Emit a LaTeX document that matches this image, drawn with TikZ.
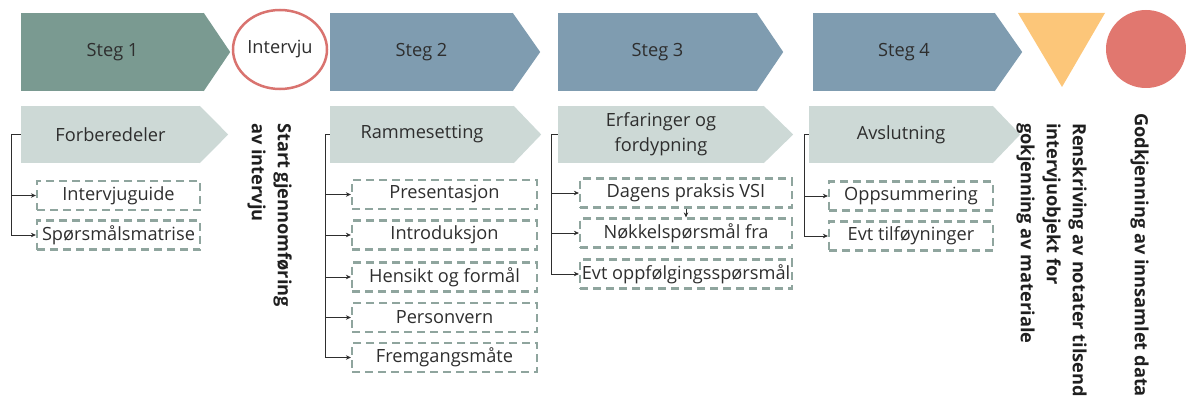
\documentclass[tikz,border=0pt]{standalone}
\usepackage{fontspec}
\setmainfont{Open Sans}
\usetikzlibrary{arrows.meta,shapes.geometric}

\definecolor{stepgreen}{HTML}{7A9A91}
\definecolor{stepblue}{HTML}{7F9CB0}
\definecolor{phase}{HTML}{CDD9D6}
\definecolor{dashc}{HTML}{8FA59E}
\definecolor{ringred}{HTML}{D9736F}
\definecolor{triyellow}{HTML}{FCC679}
\definecolor{dotred}{HTML}{E1776F}
\definecolor{ink}{HTML}{2E2E2E}

\tikzset{
  basefont/.style={font=\fontsize{18.2}{25}\selectfont, text=ink},
  stepbox/.style={basefont, fill=#1, minimum height=78, inner sep=0},
  phasebox/.style={basefont, fill=phase, minimum height=57, inner sep=0, align=center},
  subbox/.style={basefont, draw=dashc, dash pattern=on 8pt off 5pt, line width=2.2pt,
                 minimum height=29, inner sep=0},
  conn/.style={draw=ink, line width=1pt, -{Stealth[length=5pt,width=4.5pt]}},
  vtext/.style={rotate=-90, anchor=north west, align=left, inner sep=0,
                font=\bfseries\fontsize{18.2}{26}\selectfont, text=black!88},
}

% pointed right end of a chevron node
\newcommand\chevtip[3]{\fill[#3] ([xshift=-0.5pt]#1.north east) -- ([xshift=#2]#1.east) -- ([xshift=-0.5pt]#1.south east) -- cycle;}

\begin{document}
\begin{tikzpicture}[x=1pt,y=-1pt]
\useasboundingbox (0,0) rectangle (1187,396);
\clip (0,0) rectangle (1187,396);

% ---- top row: steps ----
\node[stepbox=stepgreen, minimum width=183] (s1) at (112.5,52) {Steg 1};
\chevtip{s1}{26pt}{stepgreen}
\node[ellipse, draw=ringred, line width=2.5pt, fill=white, minimum width=94,
      minimum height=79, inner sep=0, basefont] (iv) at (280,49.5) {Intervju};
\node[stepbox=stepblue, minimum width=183] (s2) at (421.5,52) {Steg 2};
\chevtip{s2}{27pt}{stepblue}
\node[stepbox=stepblue, minimum width=199] (s3) at (657.5,52) {Steg 3};
\chevtip{s3}{26pt}{stepblue}
\node[stepbox=stepblue, minimum width=182] (s4) at (904,52) {Steg 4};
\chevtip{s4}{27pt}{stepblue}
\fill[triyellow] (1018,13) -- (1105,13) -- (1062,87) -- cycle;
\node[ellipse, fill=dotred, minimum width=80, minimum height=78, inner sep=0] (gd) at (1146,49) {};

% ---- second row: phases ----
\node[phasebox, minimum width=179] (p1) at (110.5,134.5) {Forberedeler};
\chevtip{p1}{28pt}{phase}
\node[phasebox, minimum width=184] (p2) at (422,134.5) {Rammesetting};
\chevtip{p2}{27pt}{phase}
\node[phasebox, minimum width=206] (p3) at (661,134.5) {Erfaringer og\\fordypning};
\chevtip{p3}{29pt}{phase}
\node[phasebox, minimum width=184] (p4) at (901,134.5) {Avslutning};
\chevtip{p4}{27pt}{phase}

% ---- sub-tasks ----
\node[subbox, minimum width=163] (a1) at (118.5,195.5) {Intervjuguide};
\node[subbox, minimum width=163] (a2) at (118.5,235) {Spørsmålsmatrise};

\node[subbox, minimum width=185] (b1) at (444.5,194.5) {Presentasjon};
\node[subbox, minimum width=185] (b2) at (444.5,235) {Introduksjon};
\node[subbox, minimum width=185] (b3) at (444.5,277) {Hensikt og formål};
\node[subbox, minimum width=185] (b4) at (444.5,317.5) {Personvern};
\node[subbox, minimum width=185] (b5) at (444.5,357.5) {Fremgangsmåte};

\node[subbox, minimum width=212] (c1) at (686,193) {Dagens praksis VSI};
\node[subbox, minimum width=212] (c2) at (686,233) {Nøkkelspørsmål fra};
\node[subbox, minimum width=212] (c3) at (686,274) {Evt oppfølgingsspørsmål};

\node[subbox, minimum width=164] (d1) at (911,196) {Oppsummering};
\node[subbox, minimum width=164] (d2) at (911,236) {Evt tilføyninger};

% ---- brackets from phases to sub-tasks ----
\foreach \n in {a1,a2} \draw[conn] (p1.west) -- ++(-9,0) |- (\n.west);
\foreach \n in {b1,b2,b3,b4,b5} \draw[conn] (p2.west) -- ++(-4,0) |- (\n.west);
\foreach \n in {c1,c2,c3} \draw[conn] (p3.west) -- ++(-6,0) |- (\n.west);
\foreach \n in {d1,d2} \draw[conn] (p4.west) -- ++(-4,0) |- (\n.west);
\draw[conn] (c1.south) -- (c2.north);

% ---- vertical captions ----
\node[vtext] (v1) at (292,123) {Start gjennomføring\\av intervju};
\node[vtext] (v2) at (1087,123) {Renskriving av notater tilsendt\\intervjuobjekt for\\gokjenning av materiale};
\node[vtext] (v3) at (1149,113) {Godkjenning av innsamlet data};
\end{tikzpicture}
\end{document}
